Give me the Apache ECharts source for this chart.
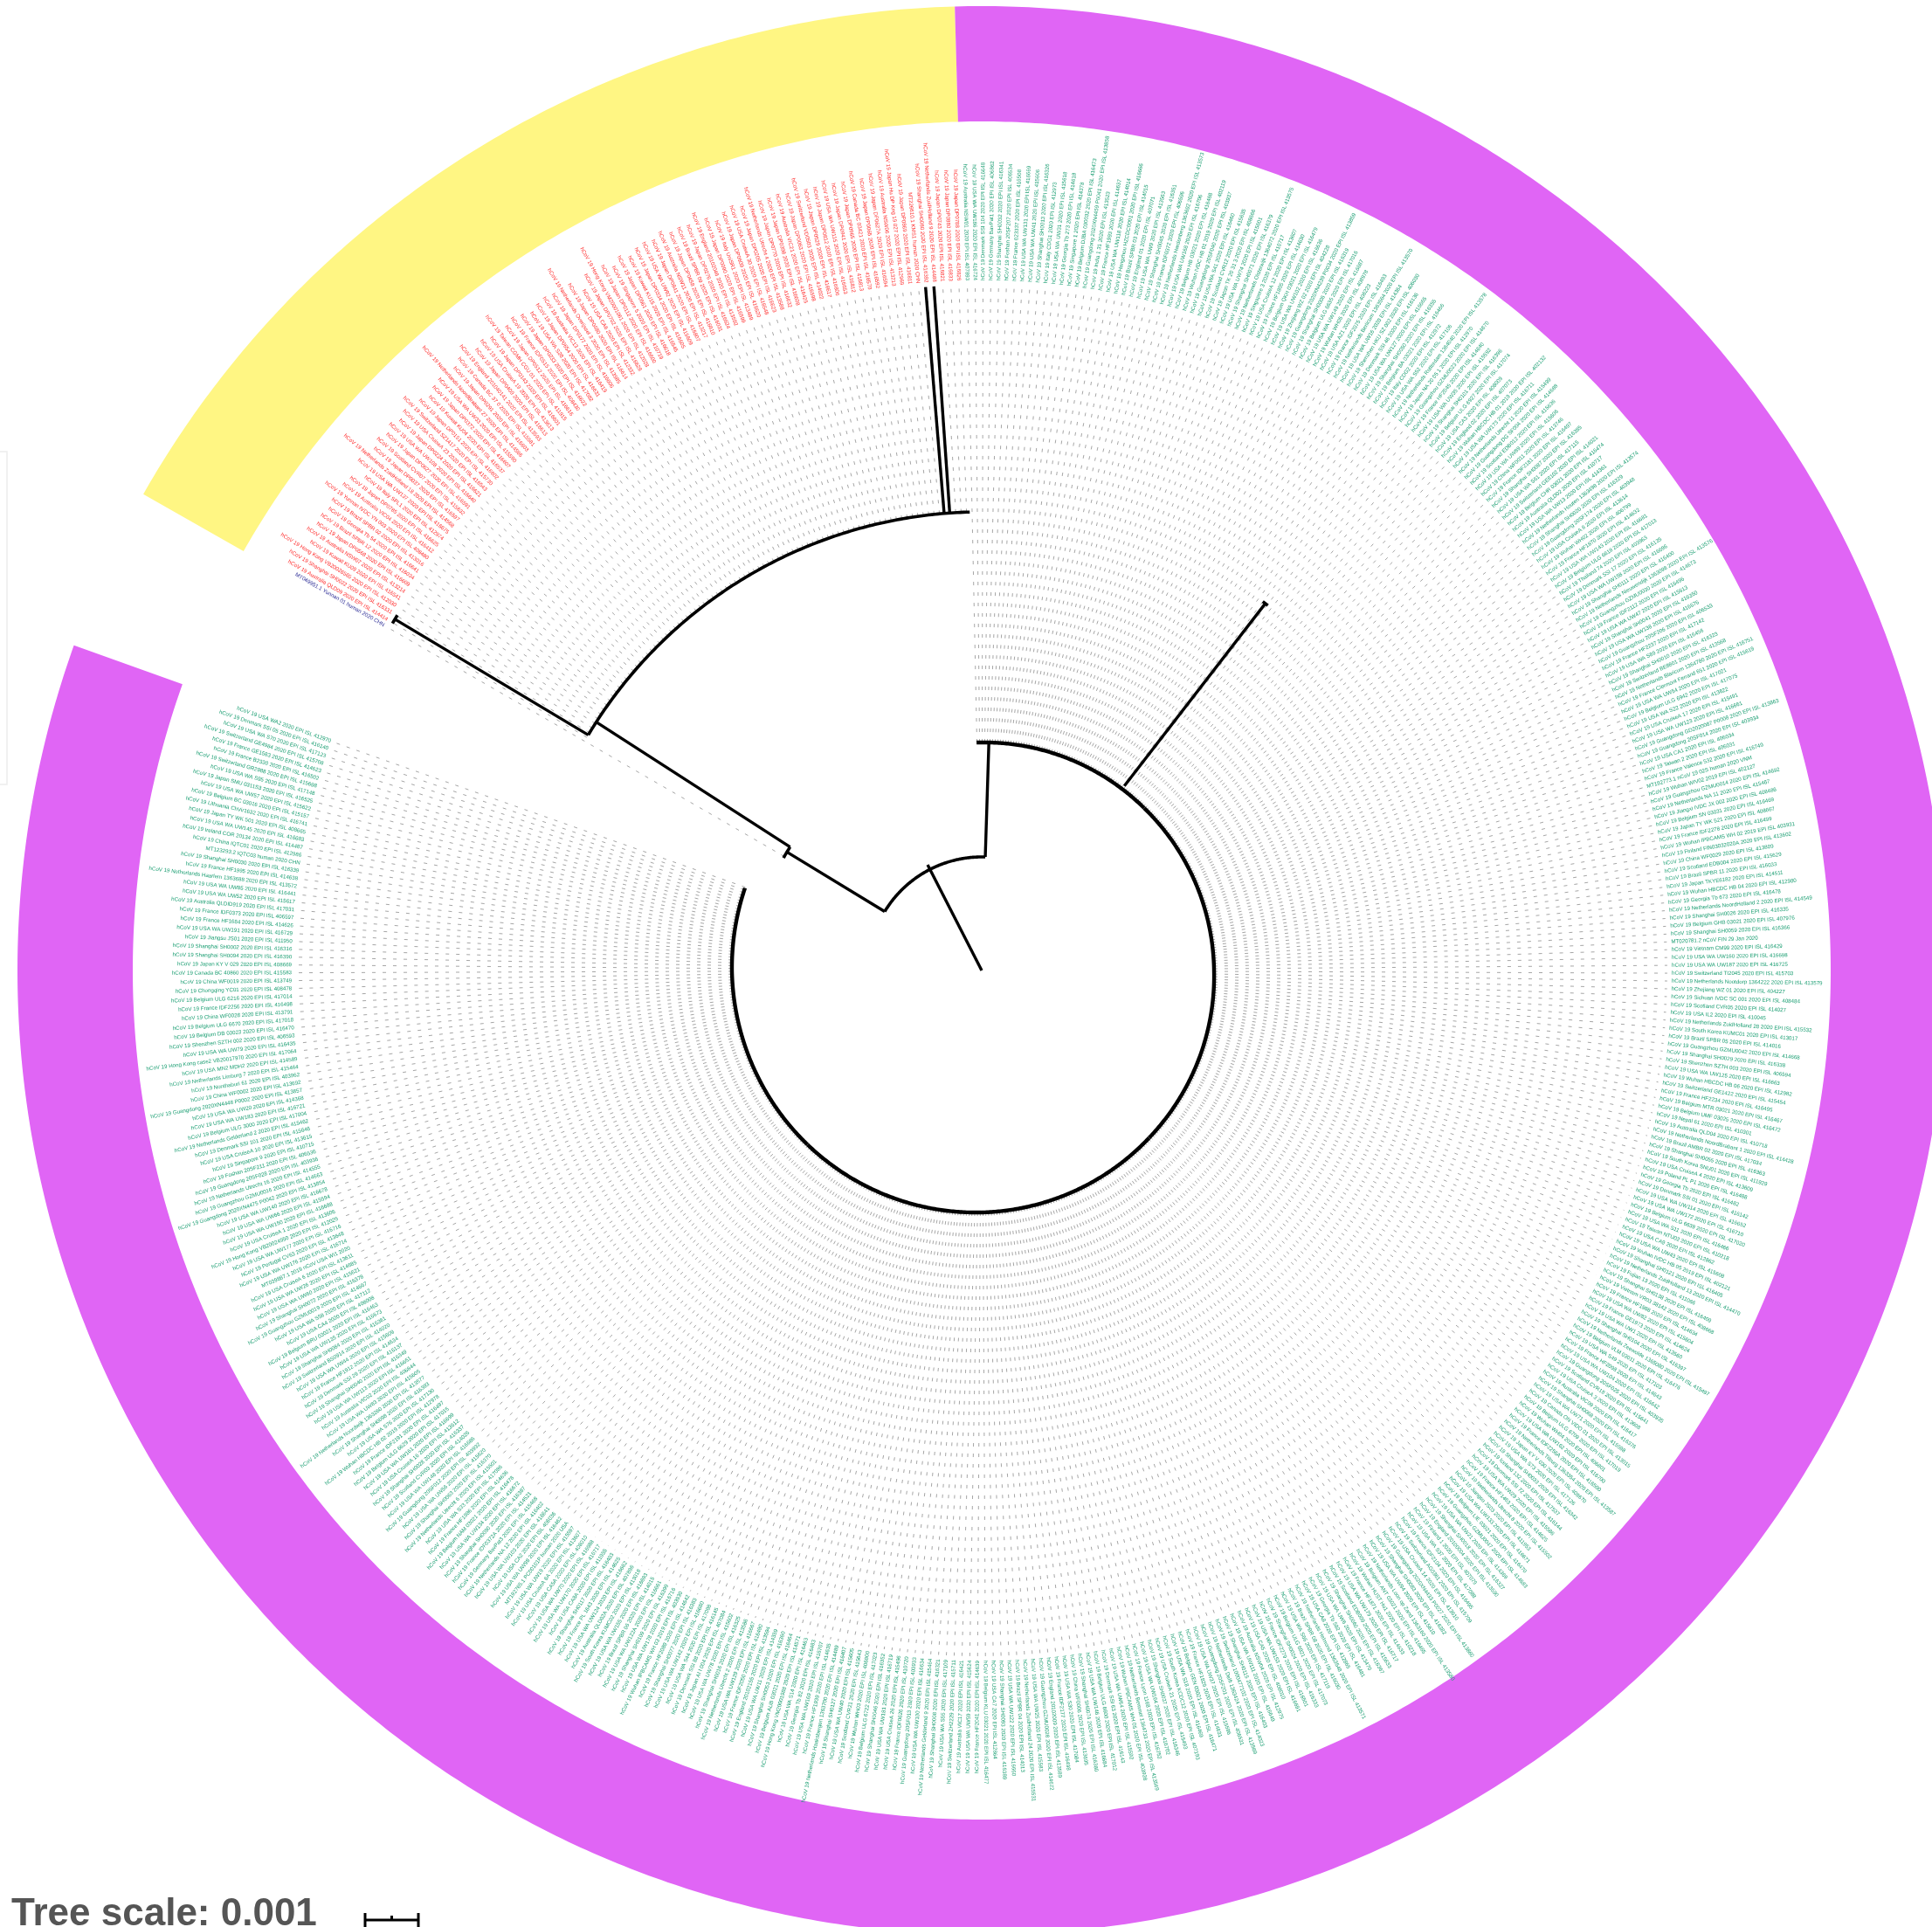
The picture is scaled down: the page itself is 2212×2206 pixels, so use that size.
<!DOCTYPE html>
<html><head><meta charset="utf-8"><style>html,body{margin:0;padding:0;background:#fff;overflow:hidden}#c{width:2212px;height:2206px}</style>
<script src="https://cdn.jsdelivr.net/npm/echarts@6/dist/echarts.min.js"></script></head><body><div id="c"></div>
<script>
// "Name|id" expands to "hCoV 19 Name 2020 EPI ISL id"; other strings are complete labels.
const outgroupLabels = ["MT049951.1 Yunnan 01 human 2020 CHN"];
const redLabels = [
"Australia QLD09|414414","Shanghai SH0022|416331","Hong Kong VB20026565|412030","Kuwait KU09|416541","Australia NSW07|413214","Japan DP0568|416609","Brazil SPBR 12|416034","Georgia Tb 54|416641","Brazil SPBR 02|413016","Yunnan IVDC YN 003|408480",
"Australia VIC04|416412","Japan DP0785|416625","Italy SPL1|412974","USA WA UW137|416675","Netherlands ZuidHolland 18|414568","Japan DP0037|416597","Scotland CVR07|415632","Japan DP0627|416591","USA WA UW108|416640","Japan DP0224|416621",
"USA CruiseA 23|416543","Switzerland SZ1417|415730","Japan DP0151|416602","Kuwait KU04|416537","Japan DP0372|416607","USA WA UW33|415590","Netherlands NoordBrabant 27|414566","Japan DP0291|416603","Canada BC 37 0|415581","England 201040141|413593",
"Japan DP0409|416613","USA CruiseA 19|413613","Japan DP0143|416601","Taiwan CGMH CGU 01|411915","Japan DP0512|416616","France IDF0515|408430","Japan DP0233|416622","USA WA S28|417082","Japan DP0654|416631","Australia VIC13|416419",
"Japan DP0177|416606","Netherlands Overijssel 3|413585","Japan DP0480|416614","USA CA6|412332","Japan DP0702|416628","Hong Kong VM20001061|412028","Japan DP0112|416600","Singapore 5|410719","Japan DP0561|416618","Kuwait KU15|416545",
"Japan DP0334|416605","USA WA UW92|415609","Japan DP0841|416807","Australia NSW11|413217","Japan DP0458|416610","Brazil SPBR 09|416031","Japan DP0276|416624","England 20102046|413592","Japan DP0090|416599","Italy UniSR1|413489",
"Japan DP0609|416620","USA CruiseA 30|416548","Japan DP0205|416623","Netherlands Utrecht 4|413588","Japan DP0770|416632","Japan DP0398|416608","Australia VIC21|416425","Japan DP0063|416598","Switzerland VD0503|414022","Japan DP0529|416617",
"Japan DP0812|416806","USA WA UW115|416653","Japan DP0941|416812","Japan DP0965|416813","Canada BC 03421|416570","Japan DP0065|416592","Japan DP0627A|416594","Australia NSW06|413213","Japan Hu DP Kng 19 027|412969","Japan DP0869|416811",
"MT226610.1 KMS1 human 2020 CHN","Shanghai SH0080|416392","Netherlands ZuidHolland 9|414488","Japan DP0743|416821","Japan DP0880|416833","Japan DP0788|416826"];
const greenTopLabels = [
"Australia NSW01|407893","USA WA UW186|416724","Denmark SSI 104|416648","Germany BavPat1|406862","Shanghai SH0032|416341","Foshan 20SF207|406534","France 023337|416508","USA WA UW131|416669","USA WA UW41|415606","Shanghai SH0013|416326",
"Italy CDG1|412973","USA WA UW31|415618","Georgia Tb 273|414618","Singapore 1|414378","Belgium DJBA 030032|416473","Guangdong 2020XN4459 P0041|413858","India 1 31|413523","France HF1993|414637","USA WA UW118|414014","Hangzhou HZCDC0001|416666",
"Brazil SPBR 03|414015","England 01|407071"];
const greenUpperLabels = [
"USA WA UW9|413563","Shanghai SH0045|416351","France IDF0372|406596","Netherlands Hardenberg 1363692|413573","USA WA UW168|416706","Belgium HB 03021|416468","Wuhan IVDC HB 01 2019|402119","Guangdong 20SF040|403937","USA WA S41|416460","Scotland CVR12|415635",
"Japan TK 20 31 3|408666","USA WA UW74|415601","Shanghai SH0071|416379","Netherlands Oisterwijk 1364072|413575","Singapore 3|410717","USA CruiseA 12|413607","France HF1805|414630","Belgium QKH 03021|416479","USA WA UW102|416636","Zhejiang WZ 02|404228",
"Guangdong 2020XN4239 P0034|413859","Shanghai SH0006|416319","Belgium ULG 6635|417016","USA WA UW149|416687","Wuhan WH05|408978","USA AZ1|406223","France IDF2075|416493","Netherlands Berlicum 1363564|413570","USA WA UW16|414364","Shenzhen HKU SZ 002|406030",
"Denmark SSI 46|416136","USA WA UW127|416665","Shanghai SH0050|416355","Belgium BA 03021|416466","Italy CDG2|412972","USA WA S52|417106","Netherlands Rotterdam 1364040|413578","Japan NA 20 05 1|412970","Guangzhou GZMU0023|414670","France HF2045|414640",
"USA WA UW35|415592","Shanghai SH0101|416396","Belgium ULG 6927|417074","USA CA3|408009","England 02|407073","Wuhan HBCDC HB 01 2019|402132","USA WA UW173|416711","Netherlands Utrecht 11|415499","Guangdong DG SF004|414688","Scotland EDB012|415636",
"USA WA UW89|415606","China WF0011|413746","France IDF2181|416497","Shanghai SH0087|416385","USA WA S61|417115","Switzerland GE8102|414021","Belgium CHR 03021|416474","Australia QLD02|410717","USA WA UW13|414361","Netherlands Houten 1363498|413574",
"Shanghai SH0020|416329","Guangdong 20SF174|403948","USA CruiseA 8|413614","Wuhan WH02|406799","France HF1870|414632","USA WA UW143|416681","Belgium ULG 6618|417013","Thailand 74|403963","Denmark SSI 17|416135","USA WA UW158|416696",
"Shanghai SH0111|416400","Netherlands Nieuwendijk 1363098|413576","Guangzhou GZMU0030|414673","France IDF2112|416496","USA WA UW47|415613","Shanghai SH0041|416350","USA WA UW138|416676"];
const greenRightLabels = [
"Guangzhou 20SF206|406533","France HF2237|417142","USA WA S89|416456","Shanghai SH0010|416323","Switzerland BE8801|413568","Netherlands Blaricum 1364780|416751","France Clermont Ferrand 651|415619","USA WA UW54|417021","Belgium ULG 6942|417075","USA WA S22|413622",
"USA CruiseA 17|415491","USA WA UW123|416661","Guangdong GD2020087 P0008|413863","Guangdong 20SF014|403934","USA CA1|406034","Taiwan 2|406031","France Valence 532|416749","MT192773.1 nCoV 19 02S human 2020 VNM","Wuhan WIV02 2019 EPI ISL 402127","Guangzhou GZMU0014|414692",
"Netherlands NA 11|415467","Jiangxi IVDC JX 002|408486","Belgium SN 03031|416469","Japan TY WK 521|408667","France IDF2278|416499","Wuhan IPBCAMS WH 02 2019 EPI ISL 403931","Finland FIN03032020A|413602","China WF0029|413809","Scotland EDB004|415629","Brazil SPBR 11|416033",
"Japan TKYE6182|414511","Wuhan HBCDC HB 04|412980","Georgia Tb 673|416478","Netherlands NoordHolland 2|414549","Shanghai SH0026|416335","Belgium GHB 03021|407976","Shanghai SH0059|416366","MT020781.2 nCoV FIN 29 Jan 2020","Vietnam CM99|416429","USA WA UW160|416698",
"USA WA UW187|416725","Switzerland TI2045|415703","Netherlands Nootdorp 1364222|413579","Zhejiang WZ 01|404227","Sichuan IVDC SC 001|408484","Scotland CVR05|414027","USA IL2|410045","Netherlands ZuidHolland 28|415532","South Korea KUMC01|413017","Brazil SPBR 05|414016",
"Guangzhou GZMU0042|414668","Shanghai SH0029|416338","Shenzhen SZTH 003|406594","USA WA UW125|416663","Wuhan HBCDC HB 06|412982","Switzerland GE1422|415454","France HF2234|416495","Belgium MTR 03021|416467","Belgium UMF 03025|416472","Nepal 61|410301",
"Australia QLD04|410718","Netherlands NoordBrabant 1|414428","Brazil AMBR 02|417034","Shanghai SH0055|416363","South Korea SNU01|411929","USA CruiseA 4|413609","Poland PL P1|416488","Georgia Tb|416482","Denmark SSI 01|416142","USA WA UW114|416652",
"USA WA UW172|416710","Belgium ULG 6639|417020","USA WA S11|416466","Taiwan NTU02|410218","USA CA9|412862","USA WA UW43|415608","Wuhan IVDC HB 05 2019 EPI ISL 402121","Shanghai SH0121|416405","Netherlands ZuidHolland 13|414470","Fujian 13|411066",
"Shanghai SH0138|416409","Vietnam VR03 38142|408668","France HF1988|414634","USA WA UW82|415604","France GE1973|414624"];
const greenBottomLabels = [
"USA WA UW1|413560","Shanghai SH0104|416397","Netherlands Zeewolde 1365080|415497","Belgium VLM 03011|416476","USA WA S49|417103","France HF2098|414643","USA WA UW104|416642","Guangdong 20SF025|403935","Scotland CVR18|415641","USA CruiseA 3|413608",
"Australia VIC09|416417","Shanghai SH0068|416376","USA WA UW71|415598","Canada ON VIDO 01|413015","Belgium ULG 6709|417019","Wuhan WH04|406801","USA WA UW162|416700","France IDF2256A|416500","Netherlands Tilburg 1363354|413587","Japan KY V 030|408670",
"USA WA S73|417126","Shanghai SH0033|416342","Iceland 132|417537","Denmark SSI 72|416144","USA WA UW29|415586","France HF1463|414625","Netherlands Utrecht 8|415502","Jiangsu JS03|411953","USA WA UW133|416671","Belgium LIE 03021|416470",
"Guangzhou GZMU0047|414683","USA WA UW21|414369","Shanghai SH0018|416327","England 20100004|413590","Finland 1|407079","USA WA S37|417088","France IDF2104|416495","Switzerland AG0361|415709","USA CruiseA 14|413610","Guangdong 2020XN4433 P0027|413860",
"Shanghai SH0083|416382","USA WA UW94|415610","Netherlands Loon op Zand 1363160|413580","Belgium ANT 03021|416465","Wuhan HUST Hu1|410218","France HF1871|414633","USA WA UW179|416717","Scotland EDB009|415633","Shanghai SH0060|416367","USA WA UW6|413470",
"Georgia Tb 592|416481","USA CA8|412865","Netherlands Helmond 1363548|413571","Brazil SPBR 08|416030","USA WA S66|417119","Belgium ULG 6921|417073","Shanghai SH0024|416333","France IDF2279|416501","USA WA UW153|416691","USA CA5|408010",
"Australia NSW04|412975","USA WA UW111|416649","Shanghai SH0115|416403","Switzerland 1000477102|414023","Netherlands Delft 1363424|413569","Guangdong 20SF201|406531","USA WA UW37|415596","France HF1829|414631","Belgium GEN 03021|416471","USA WA S18|416469",
"South Korea KCDC12|407193","USA CruiseA 21|415493","Shanghai SH0037|416346","USA WA UW164|416702","France Lyon 1168|416752","Netherlands Bemmel 1364733|413569","Wuhan IPBCAMS WH 05|403928","USA WA UW64|415592","Denmark SSI 63|416143","Belgium ULG 6600|417012",
"USA WA UW146|416684","Shanghai SH0074|416380","China WF0006|413695","USA WA S30|417084","France IDF2177|416498","England 20102009|413589","Guangzhou GZMU0028|414672","USA WA UW25|415583","Netherlands ZuidHolland 24|415531","Brazil SPBR 04|414013",
"USA WA UW122|416660","Shanghai SH0093|416389","USA CA7|412864","Belgium KLU 03021|416477","France HF2041|414639","USA WA UW59|415624","Australia VIC17|416421","Switzerland ZH2229|415711","USA WA S55|417109","Shanghai SH0008|416321",
"Netherlands Gelderland 9|415464","USA WA UW100|416634","Guangdong 20SF013|403933","France IDF0626|410720","USA CruiseA 26|415496","USA WA UW181|416719","Shanghai SH0046|416352","Belgium ULG 6722|417023","Wuhan WH03|406800","Scotland CVR21|415643",
"USA WA UW40|415605","Shanghai SH0127|416407","Netherlands Haaksbergen 1363700|414489","France HF1939|414635","USA WA UW169|416707","Georgia Tb 82|416483","USA WA S14|416463","Hong Kong VM20001988|414571","Belgium AUB 03021|416464","Shanghai SH0053|416360",
"USA WA UW11|414359","England 20102155|413594","France IDF2050|416490","USA WA UW129|416667","Netherlands Utrecht 2|413586","Shanghai SH0016|416325","USA WA UW78|415602","Japan AI I 004|407084","Denmark SSI 88|416145","USA WA S44|417098",
"USA WA UW142|416680","Shanghai SH0077|416383","France HF2089|414642","Wuhan IPBCAMS WH 03 2019 EPI ISL 403930","USA WA UW178|416716","Shanghai SH0109|416399","USA WA UW122A|416661","Brazil SPBR 06|414015","USA WA UW155|416693","South Korea KUMC02|413018",
"Australia QLD02A|407896","USA WA UW124|416662","France PL 1643|414625","Shanghai SH0117|416403","USA CA8A|411955","USA WA UW170|416717","USA WA UW70|416988","USA CA5A|408010","USA CruiseA 8A|413607","USA WA UW19|415597",
"MT192765.1 PC00101P human 2020 USA","USA WA UW98|416462","USA CA2|406036","USA WA UW103|416641","Netherlands NA 12|416402","Germany BavPat3|415468","France IDF0372A|414521","Shanghai SH0090|416387","USA WA UW134|416672","Belgium NAM 03021|416478",
"France HF1986|414636","USA WA S33|417086","Netherlands Utrecht 6|415501","Shanghai SH0063|416370","USA WA UW56|415620","Guangdong 20SF012|403932","USA WA UW148|416686","Scotland CVR03|414026","Shanghai SH0028|416337","USA CruiseA 16|413612",
"USA WA UW161|416699","Belgium ULG 6629|417015","France IDF2191|416497","Wuhan HBCDC HB 02 2019|412978","USA WA S76|417130","Shanghai SH0098|416393","Netherlands Noordwijk 1363260|413577","USA WA UW83|415605","Australia VIC02|406844","USA WA UW113|416651",
"Shanghai SH0040|416349","Denmark SSI 29|416137","France HF1912|414634","USA WA UW44|415609","Switzerland BS0914|414020","Shanghai SH0084|416381","USA WA UW135|416673","Belgium BRU 03021|416463","USA CA4|408008","USA WA S58|417112",
"Guangzhou GZMU0019|414667","Shanghai SH0072|416378"];
// read top-down on the left side, so the clockwise order is the reverse of this list
const greenLeftLabelsTopDown = [
"USA WA2|412970","Denmark SSI 05|416140","USA WA S70|417123","Switzerland GE4984|415708","France GE1583|414623","France B2330|416502","Switzerland GR2988|415698","USA WA S95|417148","Japan SMU 0311S3|416525","USA WA UW57|415622",
"Belgium BC 03016|415157","Lithuania ChVir1632|416741","Japan TY WK 501|408665","USA WA UW145|416683","Ireland COR 20134|414487","China IQTC01|412986","MT123293.2 IQTC03 human 2020 CHN","Shanghai SH0030|416339","France HF1995|414638","Netherlands Haarlem 1363688|413572",
"USA WA UW85|416441","USA WA UW52|415617","Australia QLDID919|417031","France IDF0373|406597","France HF1684|414626","USA WA UW191|416729","Jiangsu JS01|411950","Shanghai SH0002|416316","Shanghai SH0094|416390","Japan KY V 029|408669",
"Canada BC 40860|415583","China WF0019|413749","Chongqing YC01|408478","Belgium ULG 6216|417014","France IDF2256|416498","China WF0028|413791","Belgium ULG 6670|417018","Belgium DB 03023|416470","Shenzhen SZTH 002|406593","USA WA UW79|416435",
"Hong Kong case2 VB20017970|417064","USA MN2 MDH2|414589","Netherlands Limburg 7|415464","Nonthaburi 61|403962","China WF0002|413692","Guangdong 2020XN4448 P0002|413857","USA WA UW20|414368","USA WA UW183|416721","Belgium ULG 3000|417004","Netherlands Gelderland 2|415462",
"Denmark SSI 101|415646","USA CruiseA 10|413615","Singapore 9|410715","Foshan 20SF211|406536","Guangdong 20SF028|403936","Netherlands Utrecht 16|414555","Guangzhou GZMU0016|414663","Guangdong 2020XN4475 P0042|413854","USA WA UW140|416678","USA WA UW66|415594",
"USA WA UW150|416688","USA CruiseA 1|413606","Hong Kong VB20024950|412029","USA WA UW177|416716","Portugal CV63|413648","USA WA UW176|416714","MT039887.1 2019 nCoV USA WI1 2020","USA CruiseA 6|413611","USA WA UW26|414685","USA WA UW60|415621"];
const greenLabels = greenTopLabels.concat(greenUpperLabels, greenRightLabels, greenBottomLabels, greenLeftLabelsTopDown.slice().reverse());

const firstOutgroupAngle = 300.0, firstRedAngle = 300.55, lastRedAngle = 358.1, firstGreenAngle = -1.2, lastGreenAngle = 289.4;
const labelRadius = 790, dashEndRadius = 785;
// thick tree lines: [angle, from radius, to radius]
const radialBranches = [[332.9,0,136],[301.3,130,261],[1.8,130,261],[302.8,261,525],[300.9,525,783],[355.3,525,785],[356.0,525,785],[37.7,267,531]];
// [radius, from angle, to angle]
const arcBranches = [[130,301.3,361.8],[261,299.6,302.8],[525,300.9,358.5],[783,300.5,301.3],[531,37.3,38.1]];
// the ladder of the big clade drifts outward clockwise
const spiralAngles = [-1.3,45,90,135,180,225,270,289.2];
const spiralRadii  = [261,263,266,271,277,282,286,287];
const redArcRadius = 525, outgroupDashStart = 261;
const ringInner = 972, ringOuter = 1104;
const ringStarts = [299.6,-1.6], ringEnds = [358.4,289.7];
const ringColors = ['#FFF683','#E065F5'];
const C_RED='#FF2B2B', C_GREEN='#1B9E72', C_BLUE='#333399', C_DASH='#A6A6A6', C_LINE='#000';

function full(s){ if(s.indexOf('|')<0) return s.indexOf('EPI ISL')>=0 ? 'hCoV 19 '+s : s; const p=s.split('|'); return 'hCoV 19 '+p[0]+' 2020 EPI ISL '+p[1]; }
function spiralAt(a){ for(let i=1;i<spiralAngles.length;i++){ if(a<=spiralAngles[i]){ const t=(a-spiralAngles[i-1])/(spiralAngles[i]-spiralAngles[i-1]); return spiralRadii[i-1]+t*(spiralRadii[i]-spiralRadii[i-1]); } } return spiralRadii[spiralRadii.length-1]; }

const leaves=[];
outgroupLabels.forEach(l=>leaves.push({t:full(l),a:firstOutgroupAngle,c:C_BLUE,s:outgroupDashStart}));
redLabels.forEach((l,i)=>{const a=firstRedAngle+i*(lastRedAngle-firstRedAngle)/(redLabels.length-1);leaves.push({t:full(l),a:a,c:C_RED,s:redArcRadius});});
greenLabels.forEach((l,i)=>{const a=firstGreenAngle+i*(lastGreenAngle-firstGreenAngle)/(greenLabels.length-1);leaves.push({t:full(l),a:a,c:C_GREEN,s:spiralAt(a)});});

function arcPts(api,r0,r1,a0,a1){const n=Math.max(2,Math.ceil(Math.abs(a1-a0)/0.4)),o=[];for(let i=0;i<=n;i++){const t=i/n;o.push(api.coord([r0+(r1-r0)*t,a0+(a1-a0)*t]).slice(0,2));}return o;}
function stroke(points,w,col,dash){return {type:'polyline',silent:true,shape:{points:points},style:{fill:null,stroke:col,lineWidth:w,lineDash:dash||null,lineCap:'butt',lineJoin:'round'}};}

const chart=echarts.init(document.getElementById('c'),null,{renderer:'canvas',width:2212,height:2206});
chart.setOption({
 animation:false,backgroundColor:'#fff',
 polar:{center:[1124,1111],radius:[0,1200]},
 radiusAxis:{type:'value',min:0,max:1200,show:false},
 angleAxis:{type:'value',min:0,max:360,startAngle:90,clockwise:true,show:false},
 series:[
  {name:'rings',type:'custom',coordinateSystem:'polar',silent:true,clip:false,
   data:ringStarts.map((s,i)=>[ringInner,s,ringOuter,ringEnds[i]]),
   renderItem:(p,api)=>{const a=arcPts(api,api.value(0),api.value(0),api.value(1),api.value(3)),b=arcPts(api,api.value(2),api.value(2),api.value(3),api.value(1));
     return {type:'polygon',silent:true,shape:{points:a.concat(b)},style:{fill:ringColors[p.dataIndex]}};}},
  {name:'leaf dashes',type:'custom',coordinateSystem:'polar',silent:true,
   data:leaves.map(l=>[l.s,l.a,dashEndRadius]),
   renderItem:(p,api)=>stroke([api.coord([api.value(0),api.value(1)]).slice(0,2),api.coord([api.value(2),api.value(1)]).slice(0,2)],1,C_DASH,[4,8])},
  {name:'radial branches',type:'custom',coordinateSystem:'polar',silent:true,
   data:radialBranches.map(b=>[b[1],b[0],b[2]]),
   renderItem:(p,api)=>stroke([api.coord([api.value(0),api.value(1)]).slice(0,2),api.coord([api.value(2),api.value(1)]).slice(0,2)],3.4,C_LINE)},
  {name:'arc branches',type:'custom',coordinateSystem:'polar',silent:true,
   data:arcBranches,
   renderItem:(p,api)=>stroke(arcPts(api,api.value(0),api.value(0),api.value(1),api.value(2)),3.6,C_LINE)},
  {name:'ladder',type:'custom',coordinateSystem:'polar',silent:true,
   data:spiralAngles.slice(1).map((a,i)=>[spiralRadii[i],spiralAngles[i],spiralRadii[i+1],a]),
   renderItem:(p,api)=>stroke(arcPts(api,api.value(0),api.value(2),api.value(1),api.value(3)),4.4,C_LINE)},
  {name:'leaf labels',type:'custom',coordinateSystem:'polar',silent:true,
   data:leaves.map(l=>[labelRadius,l.a]),
   renderItem:(p,api)=>{const l=leaves[p.dataIndex],pt=api.coord([api.value(0),api.value(1)]),a=((l.a%360)+360)%360,right=a<180;
     const deg=right?a-90:a+90;
     return {type:'text',silent:true,x:pt[0],y:pt[1],rotation:-deg*Math.PI/180,
       style:{text:l.t,fill:l.c,font:'6.2px "Liberation Sans", Arial, sans-serif',align:right?'left':'right',textAlign:right?'left':'right',verticalAlign:'middle',textVerticalAlign:'middle'}};}}
 ],
 graphic:[
  {type:'rect',silent:true,shape:{x:-10,y:517,width:18,height:381},style:{fill:'#fff',stroke:'#EDEDED',lineWidth:1.5}},
  {type:'text',silent:true,x:13,y:2170,style:{text:'Tree scale: 0.001',font:'bold 44px "Liberation Sans", Arial, sans-serif',fill:'#555',textVerticalAlign:'top',verticalAlign:'top'}},
  {type:'line',silent:true,shape:{x1:417,y1:2198,x2:480,y2:2198},style:{stroke:'#000',lineWidth:3}},
  {type:'line',silent:true,shape:{x1:418,y1:2190,x2:418,y2:2206},style:{stroke:'#000',lineWidth:3}},
  {type:'line',silent:true,shape:{x1:479,y1:2190,x2:479,y2:2206},style:{stroke:'#000',lineWidth:3}},
  {type:'line',silent:true,shape:{x1:448.5,y1:2193,x2:448.5,y2:2198},style:{stroke:'#000',lineWidth:3}}
 ]
});
</script></body></html>
